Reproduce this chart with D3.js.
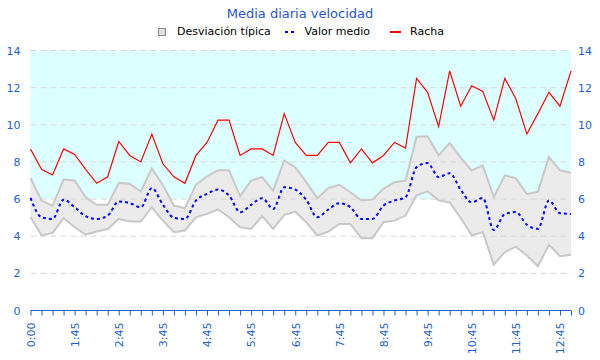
<!DOCTYPE html>
<html>
<head>
<meta charset="utf-8">
<script src="https://cdn.jsdelivr.net/npm/d3@7/dist/d3.min.js"></script>
<style>
  html, body { margin: 0; padding: 0; background: #fff; }
  svg { display: block; font-family: "DejaVu Sans", sans-serif; }
</style>
</head>
<body>
<svg id="chart" width="600" height="360"></svg>
<script>
const categories = ["0:00","1:00","1:15","1:30","1:45","2:00","2:15","2:30","2:45","3:00",
  "3:15","3:30","3:45","4:00","4:15","4:30","4:45","5:00","5:15","5:30",
  "5:45","6:00","6:15","6:30","6:45","7:00","7:15","7:30","7:45","8:00",
  "8:15","8:30","8:45","9:00","9:15","9:30","9:45","10:00","10:15","10:30",
  "10:45","11:00","11:15","11:30","11:45","12:00","12:15","12:30","12:45","13:00"];

const racha = [8.7,7.6,7.3,8.7,8.4,7.6,6.85,7.2,9.1,8.35,
  8.0,9.5,7.9,7.2,6.85,8.35,9.05,10.25,10.25,8.35,
  8.7,8.7,8.35,10.6,9.05,8.35,8.35,9.05,9.05,7.95,
  8.7,7.95,8.35,9.05,8.75,12.5,11.75,9.9,12.9,11.0,
  12.1,11.8,10.25,12.5,11.4,9.5,10.6,11.75,11.0,12.9];

const valorMedio = [6.06,5.02,4.93,5.97,5.56,5.08,4.93,5.11,5.87,5.78,
  5.56,6.59,5.7,4.99,4.93,5.92,6.28,6.51,6.19,5.29,
  5.69,6.05,5.47,6.64,6.51,5.96,5.02,5.44,5.78,5.56,
  4.93,4.93,5.65,5.92,6.1,7.72,7.94,7.18,7.39,6.5,
  5.82,6.06,4.33,5.19,5.3,4.62,4.4,5.92,5.24,5.2];

const desvSup = [7.14,5.92,5.65,7.05,7.0,6.1,5.69,5.69,6.87,6.82,
  6.41,7.66,6.75,5.65,5.51,6.77,7.23,7.55,7.55,6.15,
  7.0,7.18,6.46,8.08,7.72,6.91,6.05,6.59,6.77,6.37,
  5.92,5.97,6.55,6.91,7.0,9.36,9.38,8.36,9.01,8.23,
  7.54,7.81,6.12,7.27,7.13,6.26,6.4,8.26,7.55,7.42];

const desvInf = [5.04,4.04,4.18,4.97,4.48,4.09,4.25,4.39,4.93,4.79,
  4.79,5.56,4.84,4.22,4.31,5.02,5.2,5.44,5.02,4.48,
  4.39,5.08,4.39,5.15,5.32,4.75,4.04,4.25,4.66,4.66,
  3.89,3.89,4.75,4.84,5.11,6.2,6.42,5.93,5.82,4.98,
  4.05,4.22,2.47,3.14,3.44,2.96,2.38,3.54,2.92,3.0];

const yTicks = [0,2,4,6,8,10,12,14];
const bandRange = [6,14];

const title = "Media diaria velocidad";
const legendLabels = ["Desviación típica","Valor medio","Racha"];

const axisColor = "#1f5fcf";
const svg = d3.select("#chart");

const x = d3.scalePoint().domain(categories).range([30.5, 571]);
const y = d3.scaleLinear().domain([0,14]).range([310.5, 50.5]);
const x0 = x.range()[0], x1 = x.range()[1];

const data = categories.map((c,i) => ({c, r: racha[i], m: valorMedio[i], hi: desvSup[i], lo: desvInf[i]}));

// cyan band
svg.append("rect")
  .attr("x", x0).attr("y", y(bandRange[1]))
  .attr("width", x1 - x0).attr("height", y(bandRange[0]) - y(bandRange[1]))
  .attr("fill", "#dcffff");

// std band fill
svg.append("path").datum(data)
  .attr("fill", "#ebebeb")
  .attr("d", d3.area().x(d => x(d.c)).y0(d => y(d.lo)).y1(d => y(d.hi)));

// grid
svg.append("g").selectAll("line").data(yTicks.filter(t => t > 0)).join("line")
  .attr("x1", x0).attr("x2", x1)
  .attr("y1", d => y(d)).attr("y2", d => y(d))
  .attr("stroke", "#ddd5d5").attr("stroke-width", 1).attr("stroke-dasharray", "6,4");

// band edges
["hi","lo"].forEach(k => {
  svg.append("path").datum(data)
    .attr("fill", "none").attr("stroke", "#c8c8c8").attr("stroke-width", 2)
    .attr("d", d3.line().x(d => x(d.c)).y(d => y(d[k])));
});

// mean
svg.append("path").datum(data)
  .attr("fill", "none").attr("stroke", "#0000ff").attr("stroke-width", 2)
  .attr("stroke-dasharray", "3,3")
  .attr("d", d3.line().curve(d3.curveMonotoneX).x(d => x(d.c)).y(d => y(d.m)));

// racha
svg.append("path").datum(data)
  .attr("fill", "none").attr("stroke", "#ff0000").attr("stroke-width", 1.2)
  .attr("d", d3.line().x(d => x(d.c)).y(d => y(d.r)));

// x axis
const xa = svg.append("g").attr("transform", `translate(0,${y(0)})`)
  .call(d3.axisBottom(x).tickSize(5).tickSizeOuter(0)
    .tickFormat((d,i) => i % 4 === 0 ? d : ""));
xa.select(".domain").attr("stroke", axisColor).attr("d", `M${x0},0H${x1}`);
xa.selectAll(".tick line").attr("stroke", axisColor);
xa.selectAll(".tick text")
  .attr("transform", "rotate(-90)")
  .attr("text-anchor", "end")
  .attr("x", -12).attr("y", 0).attr("dy", "0.35em")
  .attr("fill", axisColor)
  .style("font-family", "DejaVu Sans").style("font-size", "11px");

// y axes
const yl = svg.append("g").attr("transform", `translate(${x0},0)`)
  .call(d3.axisLeft(y).tickValues(yTicks).tickSize(0).tickPadding(10));
const yr = svg.append("g").attr("transform", `translate(${x1},0)`)
  .call(d3.axisRight(y).tickValues(yTicks).tickSize(0).tickPadding(7));
[yl, yr].forEach(g => {
  g.select(".domain").remove();
  g.selectAll("text").attr("fill", axisColor)
    .style("font-family", "DejaVu Sans").style("font-size", "11px");
});

// title
svg.append("text").attr("x", 300).attr("y", 18).attr("text-anchor", "middle")
  .attr("fill", "#1f55d6").style("font-size", "13px").text(title);

// legend
const lg = svg.append("g").style("font-size", "11px");
lg.append("rect").attr("x", 158.5).attr("y", 28.5).attr("width", 7).attr("height", 7)
  .attr("fill", "#dedede").attr("stroke", "#888");
lg.append("text").attr("x", 177).attr("y", 35).attr("fill", "#000").text(legendLabels[0]);
lg.append("line").attr("x1", 285).attr("x2", 297).attr("y1", 32).attr("y2", 32)
  .attr("stroke", "#0000ff").attr("stroke-width", 2).attr("stroke-dasharray", "3,3");
lg.append("text").attr("x", 304.5).attr("y", 35).attr("fill", "#000").text(legendLabels[1]);
lg.append("line").attr("x1", 390).attr("x2", 401).attr("y1", 32).attr("y2", 32)
  .attr("stroke", "#ff0000").attr("stroke-width", 2);
lg.append("text").attr("x", 410).attr("y", 35).attr("fill", "#000").text(legendLabels[2]);
</script>
</body>
</html>
